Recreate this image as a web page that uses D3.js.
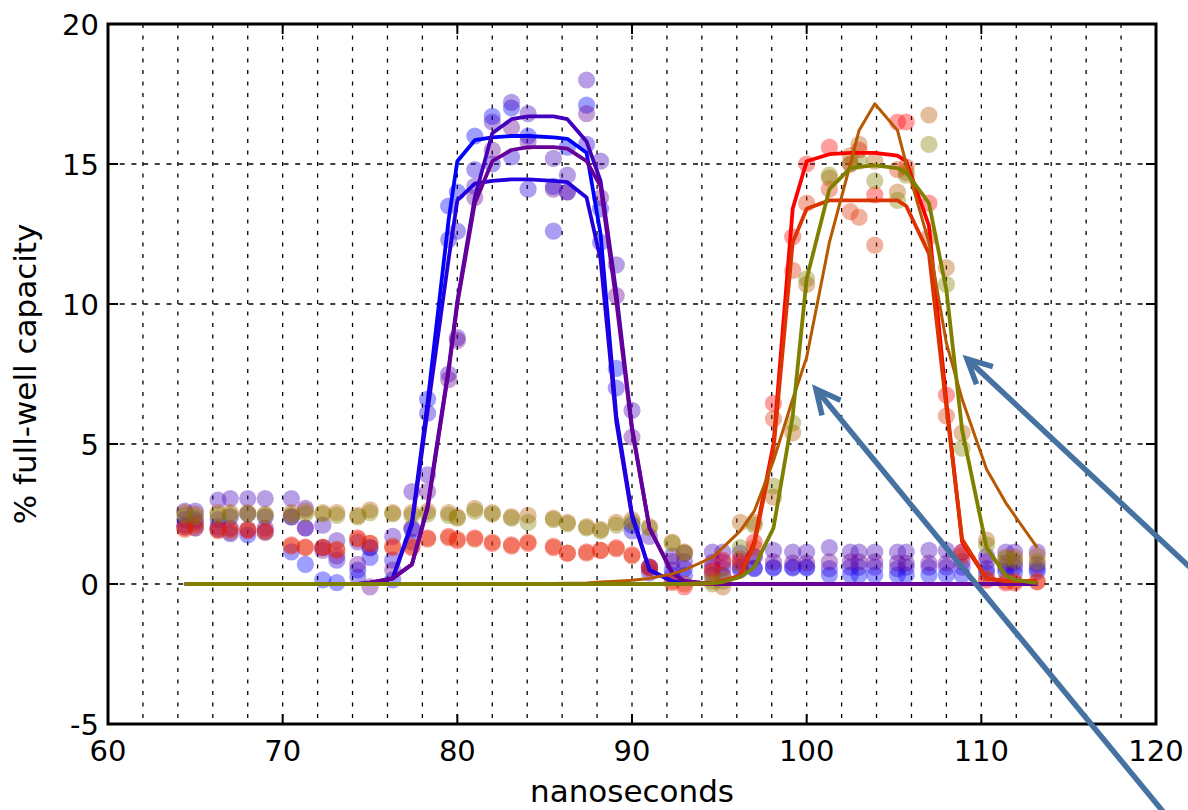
<!DOCTYPE html>
<html><head><meta charset="utf-8">
<script src="https://cdn.jsdelivr.net/npm/d3@7"></script>
<style>html,body{margin:0;padding:0;background:#fff;}svg{display:block;}</style>
</head><body>
<svg id="c" width="1188" height="810"></svg>
<script>
// sample times (ns)
const T = [64.4,65.0,66.3,67.0,68.0,69.0,70.5,71.3,72.3,73.1,74.3,75.0,76.3,77.4,78.3,79.5,80.0,81.0,82.0,83.1,84.05,85.5,86.3,87.4,88.2,89.1,90.0,91.0,92.3,93.0,94.6,95.2,96.2,97.0,98.1,99.2,100.0,101.3,102.5,103.0,103.9,105.2,105.7,107.0,108.0,108.9,110.3,111.4,111.9,113.2];

// measured points (% full-well)
const b1Dots = [2.1,2.0,1.95,1.8,1.75,1.85,1.15,0.7,0.15,0.05,0.5,0.95,0.15,1.95, 6.6,13.5,14.0,16.0,16.7,17.0,16.0,14.2,15.6,17.1,13.4,7.7,2.1,0.6,0.3,0.3, 0.32,0.3,0.5,0.57,0.57,0.57,0.57,0.32,0.32,0.32,0.32,0.32,0.32,0.32,0.32,0.32,0.4,0.45,0.4,0.45];
const b2Dots = [2.3,2.3,2.3,2.4,2.5,2.4,2.4,2.0,1.3,0.85,0.25,1.3,0.85,1.5, 6.1,12.3,12.6,14.8,15.0,15.25,14.1,12.6,14.0,15.7,12.2,7.0,1.9,0.4,0.5,0.55, 0.57,0.57,0.6,0.55,0.6,0.6,0.6,0.55,0.6,0.6,0.6,0.55,0.6,0.6,0.6,0.6,0.55,0.6,0.6,0.55];
const p1Dots = [2.6,2.6,3.0,3.05,3.05,3.05,3.05,2.7,2.1,1.55,1.5,1.3,1.7,3.3, 3.9,7.5,8.8,14.2,16.5,17.2,16.8,15.2,14.6,18.0,15.1,11.4,6.2,1.7,1.0,0.8, 1.14,1.14,1.1,1.0,1.2,1.14,1.14,1.3,1.14,1.14,1.14,1.14,1.14,1.2,1.2,1.14,1.0,1.14,1.14,1.14];
const p2Dots = [2.05,2.2,2.05,2.0,1.95,2.0,2.4,2.0,1.2,1.0,0.7,-0.1,0.5,2.0, 3.3,7.3,8.7,13.8,15.5,16.3,15.8,14.1,14.0,16.8,13.8,10.3,5.25,0.6,0.8,1.1, 0.77,0.77,0.8,0.96,0.79,0.75,0.75,0.79,0.79,0.79,0.79,0.75,0.75,0.75,0.75,0.8,0.8,0.75,0.75,0.7];
const r1Dots = [2.0,2.1,1.95,1.95,1.9,1.9,1.4,1.32,1.32,1.2,1.65,1.45,1.3,1.3, 1.65,1.7,1.55,1.65,1.45,1.4,1.45,1.3,1.1,1.15,1.2,1.3,1.05,0.6,0.1,-0.1, 0.5,0.85,0.9,1.5,6.45,12.4,15.0,15.6,15.0,15.5,13.9,16.5,16.5,13.6,6.75,1.14,0.14,0.04,0.04,0.07];
const r2Dots = [1.95,2.0,1.9,1.85,1.95,1.85,1.35,1.3,1.3,1.25,1.6,1.45,1.35,1.35, 1.6,1.65,1.6,1.6,1.5,1.35,1.5,1.35,1.1,1.1,1.2,1.25,1.0,0.55,0.05,0.0, 0.4,0.3,0.7,1.3,5.9,11.2,13.6,14.1,13.3,13.1,12.1,14.8,14.9,12.4,6.0,1.0,0.2,0.1,0.1,0.1];
const orDots = [2.55,2.5,2.55,2.55,2.55,2.5,2.55,2.6,2.55,2.55,2.45,2.65,2.55,2.55, 2.6,2.55,2.4,2.7,2.55,2.4,2.45,2.35,2.2,2.05,1.95,2.2,2.3,2.05,1.5,1.15, 0.1,-0.1,2.2,2.2,3.1,5.4,10.7,14.5,15.3,15.7,15.1,14.0,14.7,16.75,11.3,5.4,1.57,0.96,0.96,1.0];
const olDots = [2.45,2.4,2.45,2.45,2.5,2.45,2.45,2.5,2.5,2.45,2.4,2.55,2.5,2.45, 2.5,2.45,2.35,2.6,2.5,2.35,2.2,2.3,2.15,2.0,1.9,2.1,2.2,2.0,1.45,1.1, 0.0,0.1,1.3,2.1,3.5,5.75,10.9,14.6,15.0,15.1,14.4,13.7,14.6,15.7,10.7,4.85,1.4,0.9,0.85,0.8];

// fitted curves
const b1Fit = [0,0,0,0,0,0,0,0,0,0,0,0,0.2,2.2, 6.5,13.0,15.1,15.85,15.95,16.0,16.0,15.95,15.9,15.4,12.5,6.0,2.5,0.5,0.1,0.02, 0,0,0,0,0,0,0,0,0,0,0,0,0,0,0,0,0,0,0,0];
const b2Fit = [0,0,0,0,0,0,0,0,0,0,0,0,0.2,2.1, 6.2,11.6,13.7,14.3,14.4,14.45,14.45,14.4,14.35,13.8,11.6,5.8,2.4,0.5,0.1,0.02, 0,0,0,0,0,0,0,0,0,0,0,0,0,0,0,0,0,0,0,0];
const p1Fit = [0,0,0,0,0,0,0,0,0,0,0,0.05,0.2,0.7, 2.8,7.7,10.1,13.8,16.1,16.6,16.7,16.7,16.6,15.8,14.4,10.4,5.6,2.0,0.4,0.1, 0,0,0,0,0,0,0,0,0,0,0,0,0,0,0,0,0,0,0,0];
const p2Fit = [0,0,0,0,0,0,0,0,0,0,0,0.05,0.2,0.7, 2.7,7.6,10.0,13.6,15.1,15.5,15.6,15.6,15.55,15.1,14.2,10.1,5.5,2.0,0.4,0.1, 0,0,0,0,0,0,0,0,0,0,0,0,0,0,0,0,0,0,0,0];
const r1Fit = [0,0,0,0,0,0,0,0,0,0,0,0,0,0, 0,0,0,0,0,0,0,0,0,0,0,0,0,0,0,0, 0.02,0.1,0.3,1.5,5.0,13.4,15.1,15.35,15.4,15.4,15.4,15.3,15.1,12.8,6.5,1.5,0.2,0.1,0.1,0.1];
const r2Fit = [0,0,0,0,0,0,0,0,0,0,0,0,0,0, 0,0,0,0,0,0,0,0,0,0,0,0,0,0,0,0, 0.02,0.1,0.3,1.4,4.8,12.2,13.4,13.7,13.7,13.7,13.7,13.7,13.5,11.8,6.3,1.6,0.2,0.1,0.1,0.1];
const orFit = [0,0,0,0,0,0,0,0,0,0,0,0,0,0, 0,0,0,0.005,0.008,0.01,0.015,0.02,0.025,0.04,0.07,0.1,0.13,0.2,0.36,0.5, 0.95,1.3,1.9,2.6,4.4,6.6,8.1,12.2,15.0,16.2,17.15,16.2,15.0,12.2,8.6,6.6,4.1,2.9,2.45,1.3];
const olFit = [0,0,0,0,0,0,0,0,0,0,0,0,0,0, 0,0,0,0,0,0,0,0,0,0,0,0,0,0,0,0, 0.03,0.07,0.25,0.6,2.0,6.0,10.9,14.1,14.85,14.9,14.95,14.85,14.7,13.6,10.5,5.5,1.3,0.3,0.15,0.03];

const seriesNames  = ["b1","b2","p1","p2","r1","r2","or","ol"];
const seriesColors = ["#0000ff","#2200dd","#4400bb","#660099","#ff0000","#dd3300","#b85800","#808000"];
const dotSets = [b1Dots,b2Dots,p1Dots,p2Dots,r1Dots,r2Dots,orDots,olDots];
const fitSets = [b1Fit,b2Fit,p1Fit,p2Fit,r1Fit,r2Fit,orFit,olFit];

const xTicks = [60,70,80,90,100,110,120];
const yTicks = [-5,0,5,10,15,20];
const xGrid = [62,64,66,68,70,72,74,76,78,80,82,84,86,88,90,92,94,96,98,100,102,104,106,108,110,112,114,116,118];
const yGrid = [0,5,10,15];

// annotation arrows: [tipX, tipY, tailX, tailY] in data units
const arrows = [[100.53,6.96,120.8,-8.43],[109.18,8.04,122.6,0.21]];

const svg = d3.select("#c");
const L=108, R=1156, Tp=24, B=724;
const x = d3.scaleLinear().domain([60,120]).range([L,R]);
const y = d3.scaleLinear().domain([-5,20]).range([B,Tp]);
const font = "DejaVu Sans, Bitstream Vera Sans, sans-serif";

// grid
svg.append("g").selectAll("line").data(xGrid).join("line")
  .attr("x1",d=>x(d)).attr("x2",d=>x(d)).attr("y1",Tp).attr("y2",B)
  .attr("stroke","#000").attr("stroke-width",1.3).attr("stroke-dasharray","4,7.5");
svg.append("g").selectAll("line").data(yGrid).join("line")
  .attr("x1",L).attr("x2",R).attr("y1",d=>y(d)).attr("y2",d=>y(d))
  .attr("stroke","#000").attr("stroke-width",1.3).attr("stroke-dasharray","5,6.7");

// dots
const dotG = svg.append("g");
dotSets.forEach((vals,i)=>{
  dotG.append("g").selectAll("circle").data(T.map((t,j)=>[t,vals[j]])).join("circle")
    .attr("cx",d=>x(d[0])).attr("cy",d=>y(d[1])).attr("r",8.6)
    .attr("fill",seriesColors[i]).attr("fill-opacity",0.38);
});

// fitted lines
const line = d3.line().x(d=>x(d[0])).y(d=>y(d[1]));
fitSets.forEach((vals,i)=>{
  svg.append("path").datum(T.map((t,j)=>[t,vals[j]]))
    .attr("d",line).attr("fill","none").attr("stroke",seriesColors[i])
    .attr("stroke-width", seriesNames[i]==="or"?3.0:3.8)
    .attr("stroke-linejoin","round");
});

// frame
svg.append("rect").attr("x",L).attr("y",Tp).attr("width",R-L).attr("height",B-Tp)
  .attr("fill","none").attr("stroke","#000").attr("stroke-width",3);

// ticks (inward, all sides)
const tk = svg.append("g").attr("stroke","#000").attr("stroke-width",2);
xTicks.forEach(v=>{
  tk.append("line").attr("x1",x(v)).attr("x2",x(v)).attr("y1",B).attr("y2",B-10);
  tk.append("line").attr("x1",x(v)).attr("x2",x(v)).attr("y1",Tp).attr("y2",Tp+10);
});
yTicks.forEach(v=>{
  tk.append("line").attr("x1",L).attr("x2",L+10).attr("y1",y(v)).attr("y2",y(v));
  tk.append("line").attr("x1",R).attr("x2",R-10).attr("y1",y(v)).attr("y2",y(v));
});

// tick labels
svg.append("g").selectAll("text").data(xTicks).join("text")
  .attr("x",d=>x(d)).attr("y",761).attr("text-anchor","middle")
  .attr("font-family",font).attr("font-size",29).attr("fill","#000").text(d=>String(d));
svg.append("g").selectAll("text").data(yTicks).join("text")
  .attr("x",99).attr("y",d=>y(d)+10.5).attr("text-anchor","end")
  .attr("font-family",font).attr("font-size",29).attr("fill","#000").text(d=>String(d));

// axis labels
svg.append("text").attr("x",(L+R)/2).attr("y",802).attr("text-anchor","middle")
  .attr("font-family",font).attr("font-size",31).attr("fill","#000").text("nanoseconds");
svg.append("text").attr("transform",`translate(36,${(Tp+B)/2}) rotate(-90)`)
  .attr("text-anchor","middle").attr("font-family",font).attr("font-size",31)
  .attr("fill","#000").text("% full-well capacity");

// arrows
const ag = svg.append("g").attr("stroke","#4572a0").attr("stroke-width",5.5)
  .attr("fill","none").attr("stroke-linecap","butt").attr("stroke-linejoin","miter");
arrows.forEach(a=>{
  const tx=x(a[0]), ty=y(a[1]), ex=x(a[2]), ey=y(a[3]);
  const ang=Math.atan2(ey-ty, ex-tx);
  const len=27, spread=0.46;
  ag.append("line").attr("x1",tx).attr("y1",ty).attr("x2",ex).attr("y2",ey);
  ag.append("path").attr("d",
    `M${tx+len*Math.cos(ang-spread)},${ty+len*Math.sin(ang-spread)}L${tx},${ty}L${tx+len*Math.cos(ang+spread)},${ty+len*Math.sin(ang+spread)}`);
});
</script>
</body></html>
